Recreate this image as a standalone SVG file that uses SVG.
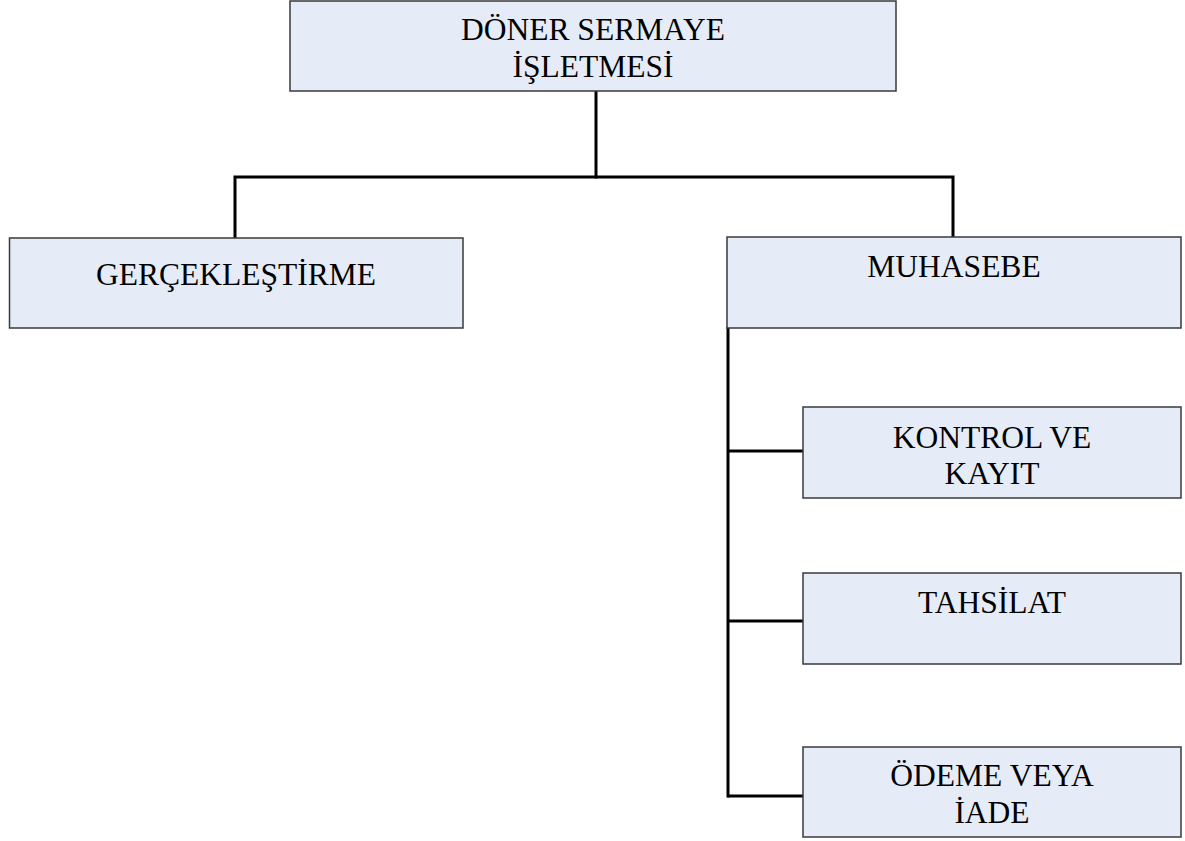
<svg xmlns="http://www.w3.org/2000/svg" width="1185" height="841" viewBox="0 0 1185 841">
<style>
.box{fill:#e6ecf7;stroke:#3a3a3a;stroke-width:1.5}
.t{font-family:"Liberation Serif","Times New Roman",serif;font-size:31.5px;fill:#000;text-anchor:middle}
.c{fill:none;stroke:#000;stroke-width:3;stroke-linecap:square}
</style>
<rect width="1185" height="841" fill="#fff"/>
<g id="connectors">
<path class="c" d="M596,91 V177"/>
<path class="c" d="M235,237 V177 H953 V237"/>
<path class="c" d="M728,328 V796"/>
<path class="c" d="M729,451 H803"/>
<path class="c" d="M729,621 H803"/>
<path class="c" d="M729,796 H803"/>
</g>
<g id="doner">
<rect class="box" x="290" y="1" width="606" height="90"/>
<text class="t" x="593" y="40">DÖNER SERMAYE</text>
<text class="t" x="593" y="77">İŞLETMESİ</text>
</g>
<g id="gerceklestirme">
<rect class="box" x="9.5" y="238" width="453.5" height="90"/>
<text class="t" x="236" y="285">GERÇEKLEŞTİRME</text>
</g>
<g id="muhasebe">
<rect class="box" x="727" y="237" width="454" height="91"/>
<text class="t" x="954" y="277">MUHASEBE</text>
</g>
<g id="kontrol">
<rect class="box" x="803" y="407" width="378" height="91"/>
<text class="t" x="992" y="448">KONTROL VE</text>
<text class="t" x="992" y="484">KAYIT</text>
</g>
<g id="tahsilat">
<rect class="box" x="803" y="573" width="378" height="91"/>
<text class="t" x="992" y="613">TAHSİLAT</text>
</g>
<g id="odeme">
<rect class="box" x="803" y="747" width="378" height="90"/>
<text class="t" x="992" y="786">ÖDEME VEYA</text>
<text class="t" x="992" y="823">İADE</text>
</g>
</svg>
